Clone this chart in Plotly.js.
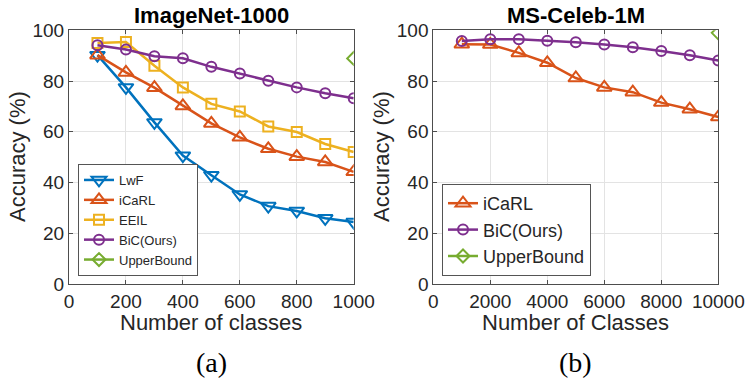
<!DOCTYPE html>
<html>
<head>
<meta charset="utf-8">
<script src="https://cdn.plot.ly/plotly-3.0.1.min.js"></script>
<style>html,body{margin:0;padding:0;background:#fff;}#chart{width:748px;height:380px;}</style>
</head>
<body>
<div id="chart"></div>
<script>
// ImageNet-1000 (a)
const classesA = [100, 200, 300, 400, 500, 600, 700, 800, 900, 1000];
const lwfA   = [90.2, 77.5, 63.7, 50.6, 42.9, 35.3, 30.7, 28.8, 25.9, 24.4];
const icarlA = [90.2, 83.4, 77.4, 70.2, 63.3, 57.8, 53.3, 50.2, 48.1, 44.2];
const eeilA  = [95.0, 95.4, 86.0, 77.5, 71.0, 68.0, 62.1, 59.9, 55.2, 52.0];
const bicA   = [94.1, 92.4, 89.8, 89.0, 85.6, 83.0, 80.1, 77.5, 75.2, 73.2];
const upperA_x = [1000];
const upperA   = [88.9];

// MS-Celeb-1M (b)
const classesB = [1000, 2000, 3000, 4000, 5000, 6000, 7000, 8000, 9000, 10000];
const icarlB = [94.5, 94.4, 91.1, 87.2, 81.2, 77.5, 75.6, 71.5, 68.9, 65.8];
const bicB   = [95.8, 96.5, 96.5, 95.9, 95.3, 94.4, 93.3, 91.8, 90.2, 88.1];
const upperB_x = [10000];
const upperB   = [99.0];

const C = {lwf:'#0072BD', icarl:'#D95319', eeil:'#EDB120', bic:'#7E2F8E', up:'#77AC30'};
const FONT = 'Liberation Sans, Arial, sans-serif';

function tr(x, y, name, color, symbol, size, xa, ya, legend) {
  return {
    x: x, y: y, name: name, type: 'scatter', mode: 'lines+markers',
    xaxis: xa, yaxis: ya, legend: legend,
    line: {color: color, width: 2.5},
    marker: {symbol: symbol, size: size, color: color, line: {color: color, width: 2}}
  };
}

const data = [
  tr(classesA, lwfA, 'LwF', C.lwf, 'triangle-down-open', 13, 'x', 'y', 'legend'),
  tr(classesA, icarlA, 'iCaRL', C.icarl, 'triangle-up-open', 13, 'x', 'y', 'legend'),
  tr(classesA, eeilA, 'EEIL', C.eeil, 'square-open', 10, 'x', 'y', 'legend'),
  tr(classesA, bicA, 'BiC(Ours)', C.bic, 'circle-open', 10, 'x', 'y', 'legend'),
  tr(upperA_x, upperA, 'UpperBound', C.up, 'diamond-open', 10, 'x', 'y', 'legend'),
  tr(classesB, icarlB, 'iCaRL', C.icarl, 'triangle-up-open', 13, 'x2', 'y2', 'legend2'),
  tr(classesB, bicB, 'BiC(Ours)', C.bic, 'circle-open', 10, 'x2', 'y2', 'legend2'),
  tr(upperB_x, upperB, 'UpperBound', C.up, 'diamond-open', 10, 'x2', 'y2', 'legend2')
];

const W = 748, H = 380;
const yDom = [1 - 284 / H, 1 - 30.3 / H];
function xax(domain, range, dtick, anchor) {
  return {
    domain: domain, range: range, dtick: dtick, tick0: 0, anchor: anchor,
    tickformat: 'd',
    showline: true, linecolor: '#4d4d4d', linewidth: 1, mirror: 'ticks',
    ticks: 'inside', ticklen: 4, tickcolor: '#4d4d4d',
    showgrid: true, gridcolor: '#e3e3e3', gridwidth: 1, zeroline: false,
    tickfont: {family: FONT, size: 19, color: '#262626'}
  };
}
function yax(anchor) {
  return {
    domain: yDom, range: [0, 100], dtick: 20, tick0: 0, anchor: anchor,
    showline: true, linecolor: '#4d4d4d', linewidth: 1, mirror: 'ticks',
    ticks: 'inside', ticklen: 4, tickcolor: '#4d4d4d',
    showgrid: true, gridcolor: '#e3e3e3', gridwidth: 1, zeroline: false,
    tickfont: {family: FONT, size: 19, color: '#262626'}
  };
}

function ann(text, x, y, size, opts) {
  return Object.assign({
    text: text, x: x / W, y: 1 - y / H, xref: 'paper', yref: 'paper',
    xanchor: 'center', yanchor: 'middle', showarrow: false,
    font: {family: FONT, size: size, color: '#262626'}
  }, opts || {});
}

const layout = {
  width: W, height: H,
  margin: {l: 0, r: 0, t: 0, b: 0},
  paper_bgcolor: '#fff', plot_bgcolor: '#fff',
  showlegend: true,
  xaxis: xax([69 / W, 353.7 / W], [0, 1000], 200, 'y'),
  yaxis: yax('x'),
  xaxis2: xax([433.3 / W, 718.3 / W], [0, 10000], 2000, 'y2'),
  yaxis2: yax('x2'),
  legend: {
    x: 78 / W, y: 1 - 276 / H, xanchor: 'left', yanchor: 'bottom',
    bgcolor: '#fff', bordercolor: '#555', borderwidth: 1,
    font: {family: FONT, size: 13, color: '#262626'},
    tracegroupgap: 0, itemwidth: 30
  },
  legend2: {
    x: 442 / W, y: 1 - 276 / H, xanchor: 'left', yanchor: 'bottom',
    bgcolor: '#fff', bordercolor: '#555', borderwidth: 1,
    font: {family: FONT, size: 18, color: '#262626'},
    tracegroupgap: 0, itemwidth: 30
  },
  annotations: [
    ann('<b>ImageNet-1000</b>', 211.3, 15, 22, {font: {family: FONT, size: 22, color: '#000'}}),
    ann('<b>MS-Celeb-1M</b>', 575.8, 15, 22, {font: {family: FONT, size: 22, color: '#000'}}),
    ann('Number of classes', 211.3, 322, 22),
    ann('Number of Classes', 575.8, 322, 22),
    ann('Accuracy (%)', 17, 157, 22, {textangle: -90}),
    ann('Accuracy (%)', 381, 157, 22, {textangle: -90}),
    ann('(a)', 211.3, 362, 28, {font: {family: 'Liberation Serif, Times New Roman, serif', size: 28, color: '#000'}}),
    ann('(b)', 575.8, 362, 28, {font: {family: 'Liberation Serif, Times New Roman, serif', size: 28, color: '#000'}})
  ]
};

Plotly.newPlot('chart', data, layout, {displayModeBar: false, staticPlot: true});
</script>
</body>
</html>
